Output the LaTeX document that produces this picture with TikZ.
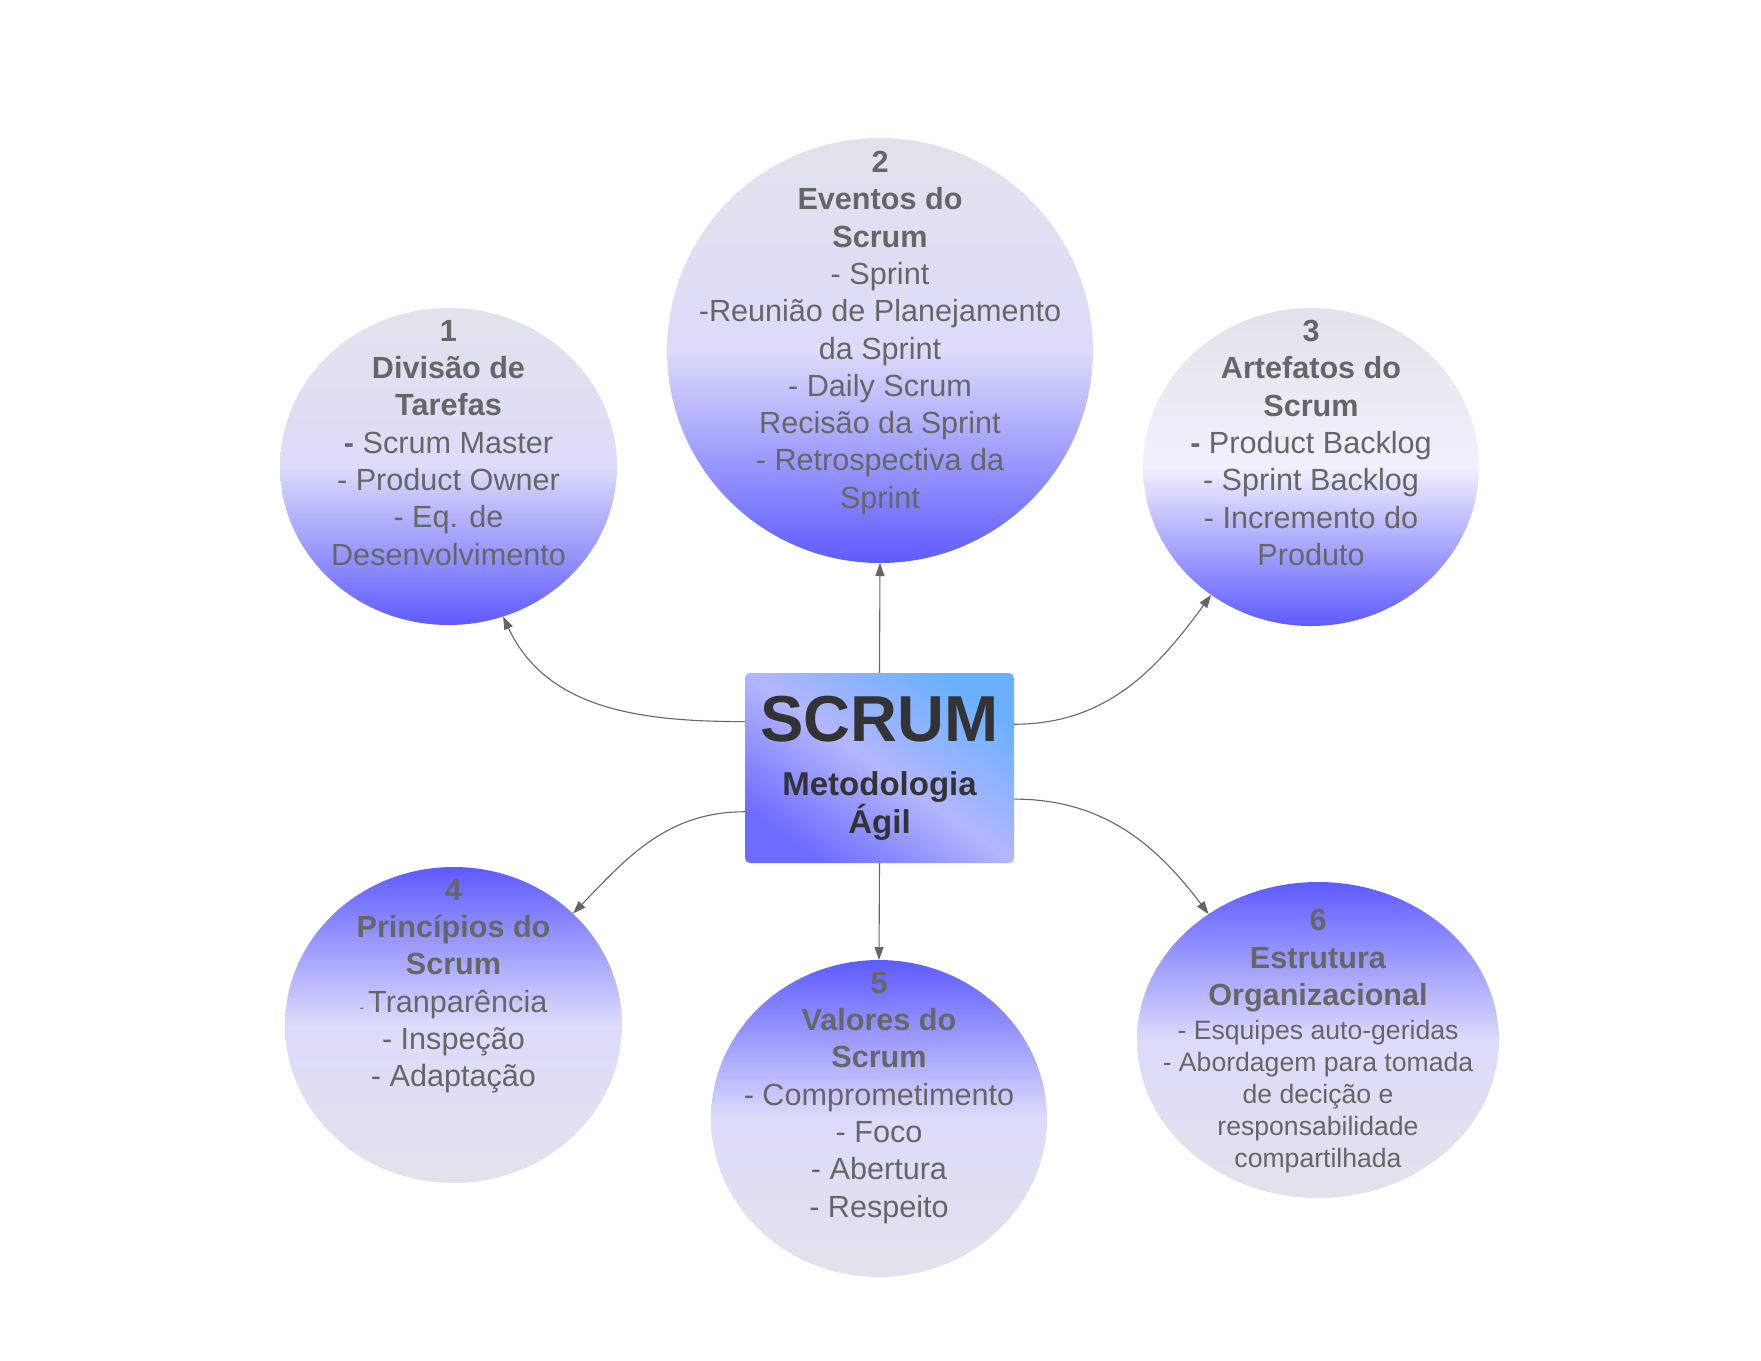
\documentclass[tikz,border=0pt]{standalone}
\usepackage{fontspec}
\setmainfont{Liberation Sans}
\usetikzlibrary{shapes.geometric,positioning,arrows.meta}
\definecolor{topgray}{HTML}{E1E3EA}
\definecolor{lav}{HTML}{DCDCFB}
\definecolor{vio}{HTML}{5E5BFF}
\definecolor{txtgray}{HTML}{666666}
\definecolor{scrumtxt}{HTML}{333333}
\definecolor{boxblue}{HTML}{6AB0FF}
\definecolor{boxmid}{HTML}{B4B6FF}
\definecolor{boxvio}{HTML}{6C6CFF}
\begin{document}
\begin{tikzpicture}[x=1pt,y=1pt,
  bubble/.style={ellipse, inner sep=0, outer sep=0},
  fadedown/.style={bubble, top color=topgray, bottom color=vio, middle color=lav},
  fadeup/.style={bubble, top color=vio, bottom color=topgray, middle color=lav},
  txt/.style={inner sep=0, align=center, text=txtgray, font=\fontsize{30.6}{37.3}\selectfont},
  conn/.style={draw=txtgray, line width=1.1pt, -{Triangle[length=13pt,width=9pt]}}]
\useasboundingbox (0,0) rectangle (1761,-1360);
% the six topics
\node[fadedown, minimum width=337pt, minimum height=317pt] (c1) at (448.5,-466.5) {};
\node[fadedown, minimum width=426pt, minimum height=425pt] (c2) at (880,-350.5) {};
\node[fadedown, middle color=lav!40!white, minimum width=336pt, minimum height=318pt] (c3) at (1311,-467) {};
\node[fadeup, minimum width=337pt, minimum height=316pt] (c4) at (453.5,-1025) {};
\node[fadeup, minimum width=336pt, minimum height=317pt] (c5) at (879,-1118.5) {};
\node[fadeup, minimum width=362pt, minimum height=316pt] (c6) at (1318,-1040) {};

\node[txt, below=12pt of c1.north] (t1) {\textbf{1}\\\textbf{Divisão de}\\\textbf{Tarefas}\\\textbf{-} Scrum Master\\- Product Owner\\- Eq. de\\Desenvolvimento};
\node[txt, below=13pt of c2.north] (t2) {\textbf{2}\\\textbf{Eventos do}\\\textbf{Scrum}\\- Sprint\\-Reunião de Planejamento\\da Sprint\\- Daily Scrum\\Recisão da Sprint\\- Retrospectiva da\\Sprint};
\node[txt, below=12pt of c3.north] (t3) {\textbf{3}\\\textbf{Artefatos do}\\\textbf{Scrum}\\\textbf{-} Product Backlog\\- Sprint Backlog\\- Incremento do\\Produto};
\node[txt, below=12pt of c4.north] (t4) {\textbf{4}\\\textbf{Princípios do}\\\textbf{Scrum}\\{\fontsize{14}{14}\selectfont - }Tranparência\\- Inspeção\\- Adaptação};
\node[txt, below=12pt of c5.north] (t5) {\textbf{5}\\\textbf{Valores do}\\\textbf{Scrum}\\- Comprometimento\\- Foco\\- Abertura\\- Respeito};
\node[txt, font=\fontsize{26.6}{32}\selectfont, below=27pt of c6.north] (t6) {{\fontsize{30.6}{37.3}\selectfont\textbf{6}}\\[5.6pt]{\fontsize{30.6}{37.3}\selectfont\textbf{Estrutura}}\\[5.6pt]{\fontsize{30.6}{37.3}\selectfont\textbf{Organizacional}}\\[1.4pt]- Esquipes auto-geridas\\- Abordagem para tomada\\de decição e\\responsabilidade\\compartilhada};

% center box
\node[rectangle, rounded corners=5pt, inner sep=0, minimum width=269pt, minimum height=190pt,
  top color=boxblue, bottom color=boxvio, middle color=boxmid, shading angle=-35,
  text=scrumtxt, align=center, font=\bfseries\fontsize{33}{38}\selectfont] (scrum) at (879.5,-768)
  {{\fontsize{65}{65}\selectfont SCRUM}\\[16pt]Metodologia\\Ágil};

\draw[conn] (scrum.161.5) to[out=180,in=-65] (c1.-70);
\draw[conn] (scrum.north) -- (c2.south);
\draw[conn] (scrum.18.5) to[out=0,in=-126] (c3.232);
\draw[conn] (scrum.198) to[out=180,in=46] (c4.43);
\draw[conn] (scrum.south) -- (c5.north);
\draw[conn] (scrum.-13) to[out=0,in=127] (c6.131);
\end{tikzpicture}
\end{document}
